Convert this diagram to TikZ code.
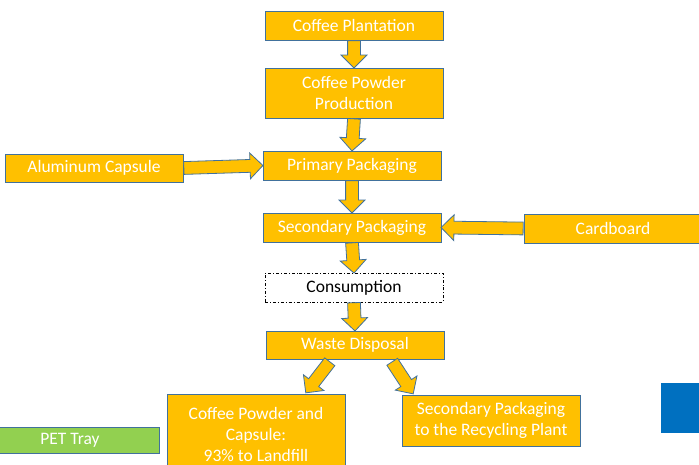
\documentclass[tikz,border=0pt]{standalone}
\usepackage{fontspec}
\setmainfont{Carlito}
\usetikzlibrary{shapes.arrows,calc}
\definecolor{amber}{HTML}{FFC000}
\definecolor{edgeblue}{HTML}{41719C}
\definecolor{leaf}{HTML}{92D050}
\definecolor{ocean}{HTML}{0070C0}

\tikzset{
  stage/.style={draw=edgeblue, fill=amber, line width=0.9pt, minimum width=178pt,
    minimum height=29pt, inner sep=0pt, text=white, align=center,
    font=\fontsize{17.5}{21}\selectfont},
  barrow/.style={single arrow, draw=edgeblue, fill=amber, line width=0.8pt,
    minimum width=25pt, single arrow head extend=6.5pt, inner sep=6pt}
}

% block arrow from one point to another: name, start, end
\newcommand\blockarrow[3]{%
  \path let \p1=(#2), \p2=(#3),
    \n1={atan2(\y2-\y1,\x2-\x1)}, \n2={veclen(\x2-\x1,\y2-\y1)} in
    node[barrow, minimum height=\n2, rotate=\n1, anchor=tail] (#1) at (\p1) {};}

\begin{document}
\begin{tikzpicture}[x=1pt, y=-1pt]
  \useasboundingbox (0,0) rectangle (699,465);

  \node[stage] (plant) at (354,25.5) {Coffee Plantation};
  \node[stage, minimum height=50pt] (prod) at (354,93) {Coffee Powder\\Production};
  \node[stage] (prim) at (352,165.5) {Primary Packaging};
  \node[stage, minimum height=28pt] (alu) at (94,168) {Aluminum Capsule};
  \node[stage] (sec) at (352,227.5) {Secondary Packaging};
  \node[stage] (card) at (613,228.5) {Cardboard};
  \node[stage, draw=black, dash dot, line width=0.6pt, fill=white, text=black] (cons) at (354,287.5) {Consumption};
  \node[stage, minimum height=28pt] (waste) at (355,345) {Waste Disposal};
  \node[stage, minimum height=80pt] (landfill) at (256,434) {Coffee Powder and\\Capsule:\\93\% to Landfill};
  \node[stage, minimum height=51pt] (recyc) at (491,420.5) {Secondary Packaging\\to the Recycling Plant};
  \node[stage, fill=leaf, draw=edgeblue, minimum height=26pt] (pet) at (70,440) {PET Tray};
  \node[fill=ocean, minimum width=60pt, minimum height=50pt, inner sep=0pt] (side) at (691,408) {};

  \blockarrow{a1}{plant.south}{prod.north}
  \blockarrow{a2}{prod.south}{prim.north}
  \blockarrow{a3}{alu.east}{prim.west}
  \blockarrow{a4}{prim.south}{sec.north}
  \blockarrow{a5}{card.west}{sec.east}
  \blockarrow{a6}{sec.south}{cons.north}
  \blockarrow{a7}{cons.south}{waste.north}
  \blockarrow{a8}{$(waste.south)+(-25,2)$}{$(landfill.north)+(50,-1)$}
  \blockarrow{a9}{$(waste.south)+(37,2)$}{$(recyc.north)+(-78,-1)$}
\end{tikzpicture}
\end{document}
